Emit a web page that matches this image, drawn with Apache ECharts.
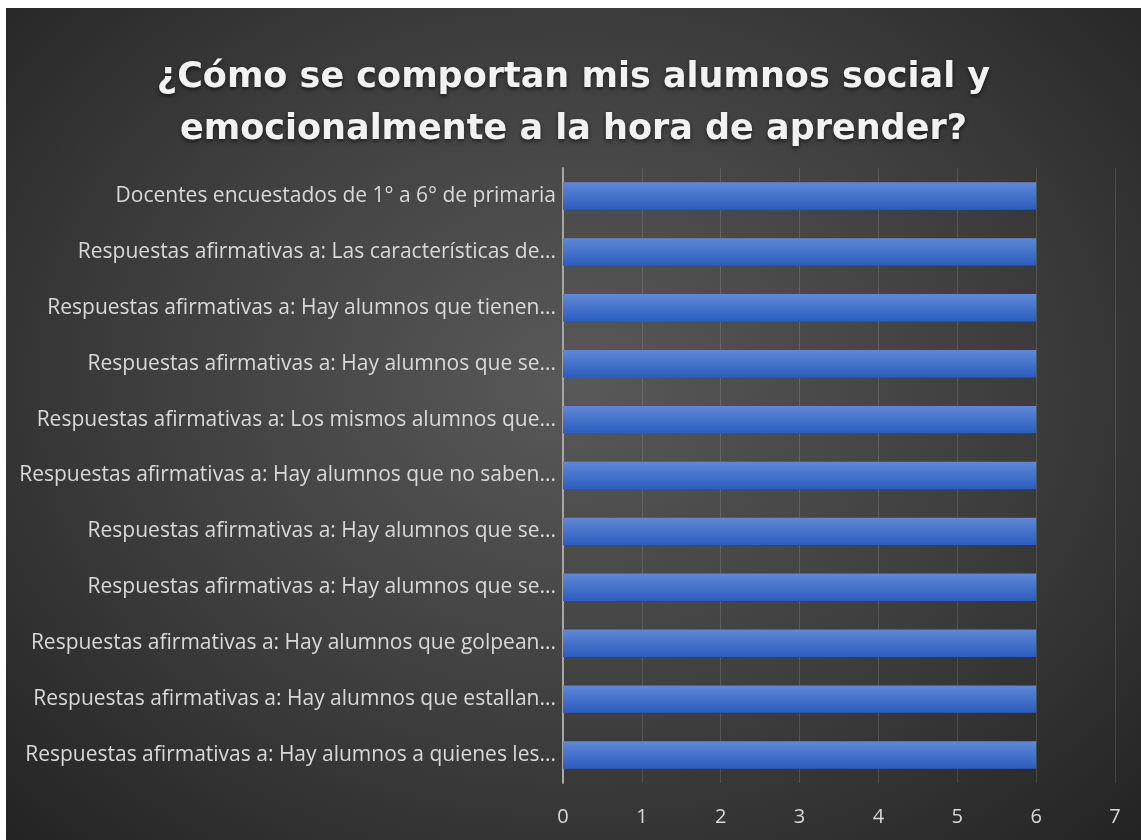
<!DOCTYPE html>
<html>
<head>
<meta charset="utf-8">
<script src="https://cdn.jsdelivr.net/npm/echarts@6/dist/echarts.min.js"></script>
<style>
  html, body { margin: 0; padding: 0; background: #fff; }
  .bar-chart {
    position: absolute; left: 6px; top: 8px; width: 1135px; height: 832px;
    background: radial-gradient(ellipse at 50% 45%, #595959 0%, #3d3d3d 55%, #232323 100%);
  }
</style>
</head>
<body>
<div class="bar-chart"></div>
<script>
// * 条形图
const categories = [
  'Docentes encuestados de 1° a 6° de primaria',
  'Respuestas afirmativas a: Las características de...',
  'Respuestas afirmativas a: Hay alumnos que tienen...',
  'Respuestas afirmativas a: Hay alumnos que se...',
  'Respuestas afirmativas a: Los mismos alumnos que...',
  'Respuestas afirmativas a: Hay alumnos que no saben...',
  'Respuestas afirmativas a: Hay alumnos que se...',
  'Respuestas afirmativas a: Hay alumnos que se...',
  'Respuestas afirmativas a: Hay alumnos que golpean...',
  'Respuestas afirmativas a: Hay alumnos que estallan...',
  'Respuestas afirmativas a: Hay alumnos a quienes les...'
]
const values = [6, 6, 6, 6, 6, 6, 6, 6, 6, 6, 6]
const xTicks = { min: 0, max: 7, interval: 1 }

const barChart = echarts.init(document.querySelector('.bar-chart'))

const barOption = {
  backgroundColor: 'transparent',
  title: {
    text: '¿Cómo se comportan mis alumnos social y\nemocionalmente a la hora de aprender?',
    left: 'center',
    top: 44,
    padding: 0,
    textStyle: {
      color: '#f2f2f2',
      fontFamily: 'DejaVu Sans',
      fontWeight: 'bold',
      fontSize: 35,
      lineHeight: 52,
      textShadowColor: 'rgba(0,0,0,0.6)',
      textShadowBlur: 4,
      textShadowOffsetY: 2
    }
  },
  grid: {
    left: 557,
    right: 26,
    top: 160,
    bottom: 57
  },
  xAxis: {
    type: 'value',
    min: xTicks.min,
    max: xTicks.max,
    interval: xTicks.interval,
    axisLine: { show: false },
    axisTick: { show: false },
    splitLine: { lineStyle: { color: 'rgba(255,255,255,0.13)', width: 1 } },
    axisLabel: {
      color: '#d9d9d9',
      fontFamily: 'Open Sans',
      fontSize: 20,
      margin: 24
    }
  },
  yAxis: {
    type: 'category',
    inverse: true,
    data: categories,
    axisLine: { show: true, lineStyle: { color: '#a6a6a6', width: 2 } },
    axisTick: { show: false },
    axisLabel: {
      color: '#d9d9d9',
      fontFamily: 'Open Sans',
      fontSize: 21,
      margin: 7
    }
  },
  series: [
    {
      type: 'bar',
      data: values,
      barCategoryGap: '51%',
      itemStyle: {
        color: new echarts.graphic.LinearGradient(0, 0, 0, 1, [
          { offset: 0, color: '#5e88d8' },
          { offset: 1, color: '#2c5dbd' }
        ]),
        shadowColor: 'rgba(0,0,0,0.55)',
        shadowBlur: 4,
        shadowOffsetY: 3
      }
    }
  ]
}

barChart.setOption(barOption)
</script>
</body>
</html>
